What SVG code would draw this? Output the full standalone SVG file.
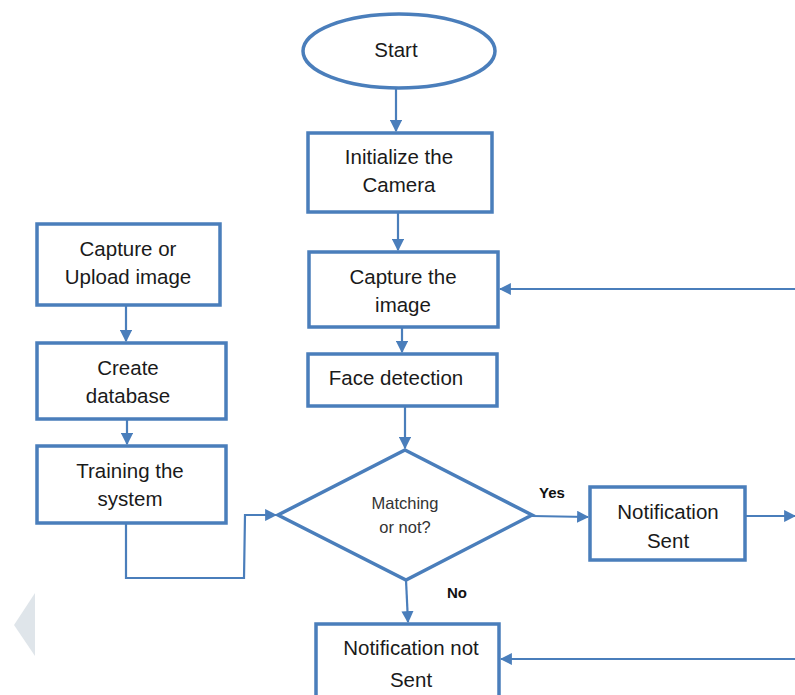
<svg xmlns="http://www.w3.org/2000/svg" width="795" height="695" viewBox="0 0 795 695">
<style>
.box{fill:#fff;stroke:#4a7ebb;stroke-width:3.5}
.t{font-family:"Liberation Sans",Arial,sans-serif;font-size:20.5px;fill:#1a1a1a;text-anchor:middle}
.s{font-family:"Liberation Sans",Arial,sans-serif;font-size:16.5px;fill:#333;text-anchor:middle}
.lb{font-family:"Liberation Sans",Arial,sans-serif;font-size:15px;font-weight:bold;fill:#111}
.c{fill:none;stroke:#4a7ebb;stroke-width:2.2}
</style>
<defs>
<marker id="ah" viewBox="0 0 10 10" refX="9" refY="5" markerWidth="5.5" markerHeight="5.5" orient="auto" markerUnits="strokeWidth">
<path d="M0,0 L10,5 L0,10 z" fill="#4a7ebb"/>
</marker>
</defs>
<rect width="795" height="695" fill="#fff"/>
<polygon points="35,593 14,625 35,656" fill="#dfe5ea"/>
<g id="start"><ellipse class="box" cx="399" cy="51" rx="96" ry="37"/><text class="t" x="396" y="57">Start</text></g>
<g id="init"><rect class="box" x="308" y="133" width="184" height="79"/><text class="t" x="399" y="164">Initialize the</text><text class="t" x="399" y="192">Camera</text></g>
<g id="capture"><rect class="box" x="309" y="252" width="189" height="75"/><text class="t" x="403" y="284">Capture the</text><text class="t" x="403" y="312">image</text></g>
<g id="face"><rect class="box" x="308" y="354" width="189" height="52"/><text class="t" x="396" y="385">Face detection</text></g>
<g id="match"><polygon class="box" points="405,450 532,515 406,580 278,515"/><text class="s" x="405" y="509">Matching</text><text class="s" x="405" y="533">or not?</text></g>
<g id="sent"><rect class="box" x="590" y="487" width="155" height="73"/><text class="t" x="668" y="519">Notification</text><text class="t" x="668" y="548">Sent</text></g>
<g id="notsent"><rect class="box" x="316" y="624" width="183" height="80"/><text class="t" x="411" y="655">Notification not</text><text class="t" x="411" y="687">Sent</text></g>
<g id="upload"><rect class="box" x="37" y="224" width="183" height="81"/><text class="t" x="128" y="256">Capture or</text><text class="t" x="128" y="284">Upload image</text></g>
<g id="db"><rect class="box" x="37" y="343" width="189" height="76"/><text class="t" x="128" y="375">Create</text><text class="t" x="128" y="403">database</text></g>
<g id="train"><rect class="box" x="37" y="446" width="189" height="77"/><text class="t" x="130" y="478">Training the</text><text class="t" x="130" y="506">system</text></g>
<g id="connectors">
<line class="c" x1="396" y1="88" x2="396" y2="131" marker-end="url(#ah)"/>
<line class="c" x1="398" y1="212" x2="398" y2="250" marker-end="url(#ah)"/>
<line class="c" x1="795" y1="289" x2="500" y2="289" marker-end="url(#ah)"/>
<line class="c" x1="402" y1="327" x2="402" y2="352" marker-end="url(#ah)"/>
<line class="c" x1="405" y1="406" x2="405" y2="448" marker-end="url(#ah)"/>
<line class="c" x1="126" y1="305" x2="126" y2="341" marker-end="url(#ah)"/>
<line class="c" x1="127" y1="419" x2="127" y2="444" marker-end="url(#ah)"/>
<polyline class="c" points="126,523 126,578 244,578 245,515 276,515" marker-end="url(#ah)"/>
<line class="c" x1="532" y1="516" x2="588" y2="517" marker-end="url(#ah)"/>
<line class="c" x1="746" y1="516" x2="795" y2="516" marker-end="url(#ah)"/>
<line class="c" x1="406" y1="580" x2="408" y2="622" marker-end="url(#ah)"/>
<line class="c" x1="795" y1="659" x2="501" y2="659" marker-end="url(#ah)"/>
<text class="lb" x="539" y="498">Yes</text>
<text class="lb" x="447" y="598">No</text>
</g>
</svg>
